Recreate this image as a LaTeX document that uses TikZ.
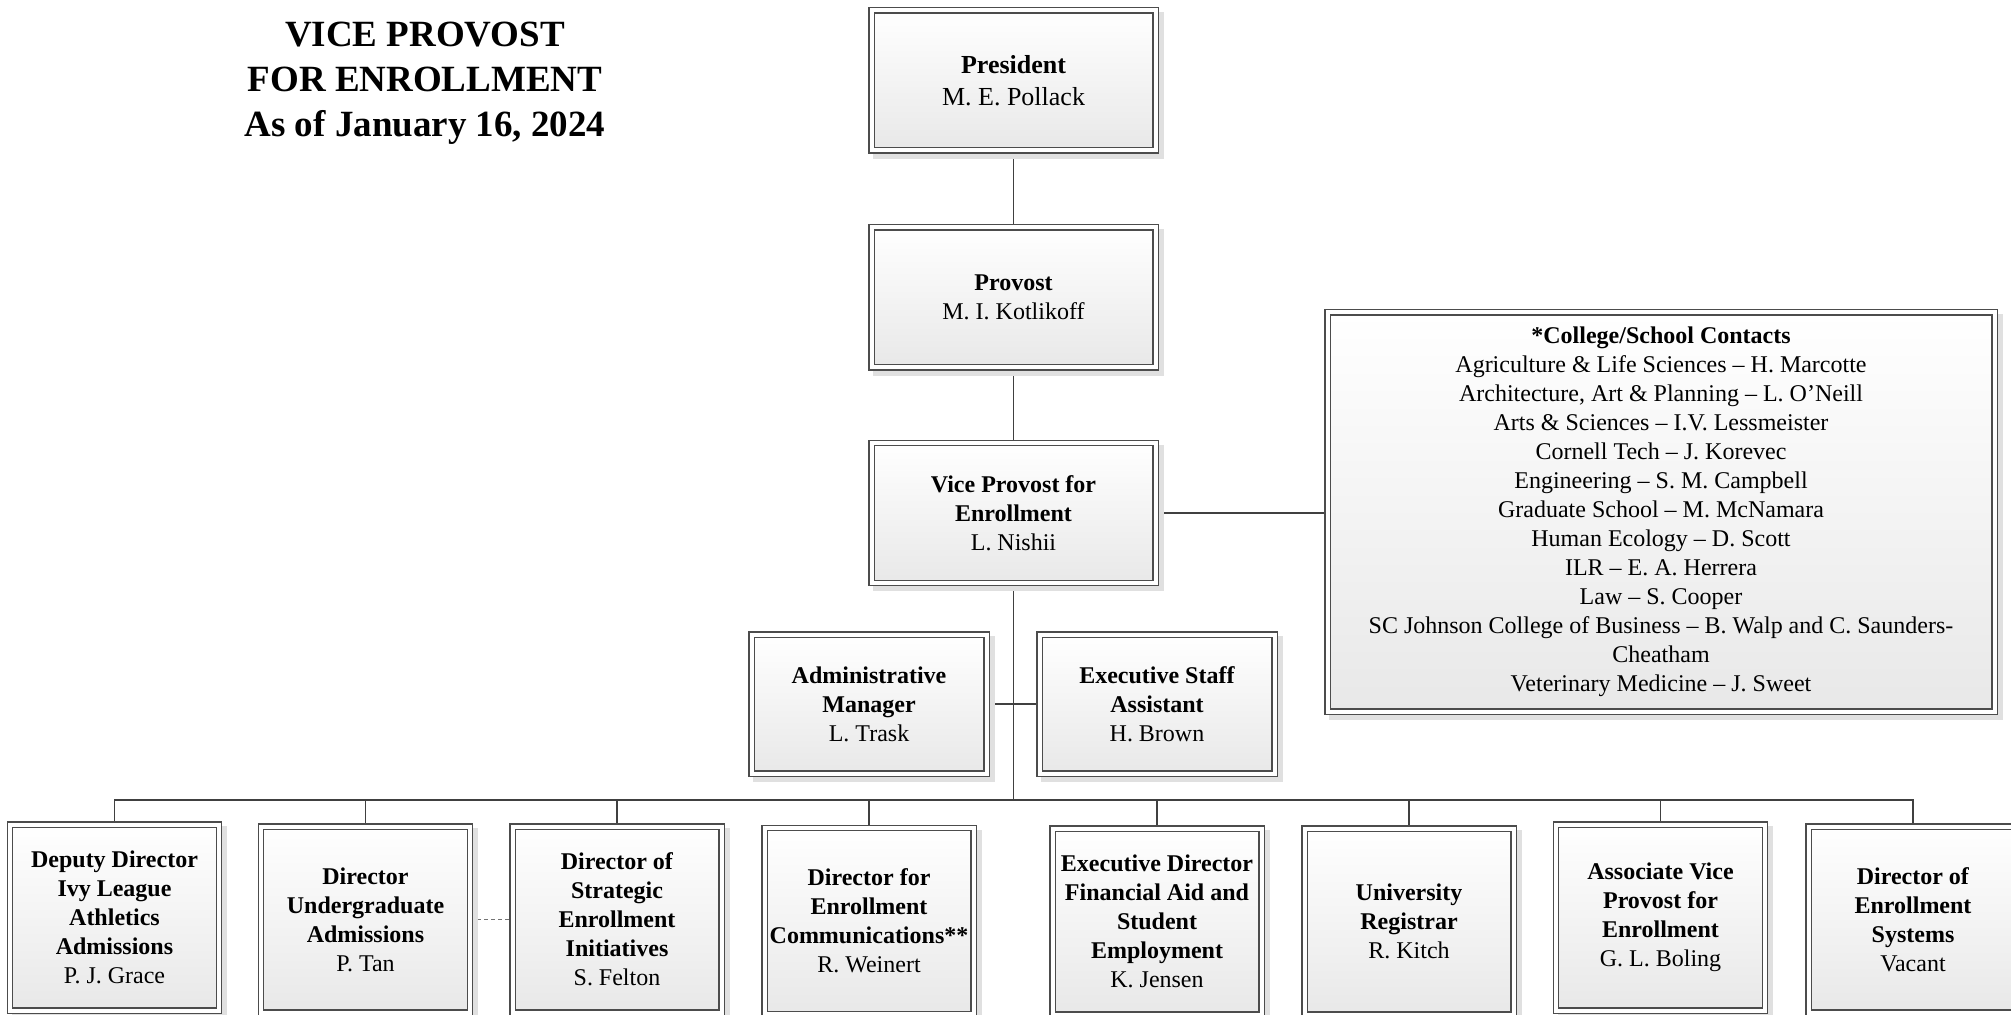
\documentclass[tikz,border=0pt]{standalone}
\usepackage{fontspec}
\setmainfont{Liberation Serif}
\usetikzlibrary{backgrounds,shadows}

\begin{document}
\begin{tikzpicture}[x=0.5pt,y=-0.5pt,
    line width=0.6pt,
    unit/.style={rectangle,draw=black!70,double=white,double distance=2pt,
      top color=white,bottom color=black!9,align=center,inner sep=0pt,outer sep=0pt,
      font=\fontsize{12}{14.5}\selectfont,
      drop shadow={shadow xshift=2.5pt,shadow yshift=-2.5pt,fill=black!12,
        draw=black!12,line width=3.2pt,opacity=1}},
    topunit/.style={unit,minimum width=142pt,minimum height=70pt},
    sideunit/.style={unit,minimum width=117.5pt,minimum height=69.5pt},
    staffunit/.style={unit,minimum width=104.5pt,minimum height=93pt},
    link/.style={draw=black!75,line width=0.6pt}]
  \useasboundingbox (0,0) rectangle (2011,1015);

  \node[font=\fontsize{18.5}{22.5}\selectfont\bfseries,align=center] (title) at (425,83)
    {VICE PROVOST\\FOR ENROLLMENT\\As of January 16, 2024};

  % top of the chart
  \node[topunit,font=\fontsize{13}{16}\selectfont] (pres) at (1013.5,80.5) {\textbf{President}\\M. E. Pollack};
  \node[topunit] (prov) at (1013.5,297.5) {\textbf{Provost}\\M. I. Kotlikoff};
  \node[topunit] (vp) at (1013.5,513) {\textbf{Vice Provost for}\\\textbf{Enrollment}\\L. Nishii};
  \node[sideunit] (adm) at (869,704) {\textbf{Administrative}\\\textbf{Manager}\\L. Trask};
  \node[sideunit] (esa) at (1157,704) {\textbf{Executive Staff}\\\textbf{Assistant}\\H. Brown};
  \node[unit,minimum width=333.5pt,minimum height=199.5pt] (con) at (1661,512)
    {\textbf{*College/School Contacts}\\
     Agriculture \& Life Sciences – H. Marcotte\\
     Architecture, Art \& Planning – L. O’Neill\\
     Arts \& Sciences – I.V. Lessmeister\\
     Cornell Tech – J. Korevec\\
     Engineering – S. M. Campbell\\
     Graduate School – M. McNamara\\
     Human Ecology – D. Scott\\
     ILR – E. A. Herrera\\
     Law – S. Cooper\\
     SC Johnson College of Business – B. Walp and C. Saunders-\\
     Cheatham\\
     Veterinary Medicine – J. Sweet};

  % directors
  \node[staffunit] (dd) at (114.5,917.5) {\textbf{Deputy Director}\\\textbf{Ivy League}\\\textbf{Athletics}\\\textbf{Admissions}\\P. J. Grace};
  \node[staffunit] (ug) at (365.5,919.5) {\textbf{Director}\\\textbf{Undergraduate}\\\textbf{Admissions}\\P. Tan};
  \node[staffunit] (sei) at (617,919.5) {\textbf{Director of}\\\textbf{Strategic}\\\textbf{Enrollment}\\\textbf{Initiatives}\\S. Felton};
  \node[staffunit] (dec) at (869,921) {\textbf{Director for}\\\textbf{Enrollment}\\\textbf{Communications**}\\R. Weinert};
  \node[staffunit] (fa) at (1157,921.5) {\textbf{Executive Director}\\\textbf{Financial Aid and}\\\textbf{Student}\\\textbf{Employment}\\K. Jensen};
  \node[staffunit] (reg) at (1409,921.5) {\textbf{University}\\\textbf{Registrar}\\R. Kitch};
  \node[staffunit] (avp) at (1660.5,917.5) {\textbf{Associate Vice}\\\textbf{Provost for}\\\textbf{Enrollment}\\G. L. Boling};
  \node[staffunit] (des) at (1913,919.5) {\textbf{Director of}\\\textbf{Enrollment}\\\textbf{Systems}\\Vacant};

  \coordinate (bus) at (1013.5,800);

  \begin{scope}[on background layer]
    \draw[link] (pres) -- (prov);
    \draw[link] (prov) -- (vp);
    \draw[link] (vp) -- (vp -| con);
    \draw[link] (vp) -- (bus);
    \draw[link] (adm) -- (esa);
    \foreach \n in {dd,ug,sei,dec,fa,reg,avp,des}
      \draw[link] (bus) -| (\n);
    \draw[link,draw=black!55,dash pattern=on 2pt off 1.5pt] (ug) -- (sei);
  \end{scope}
\end{tikzpicture}
\end{document}
